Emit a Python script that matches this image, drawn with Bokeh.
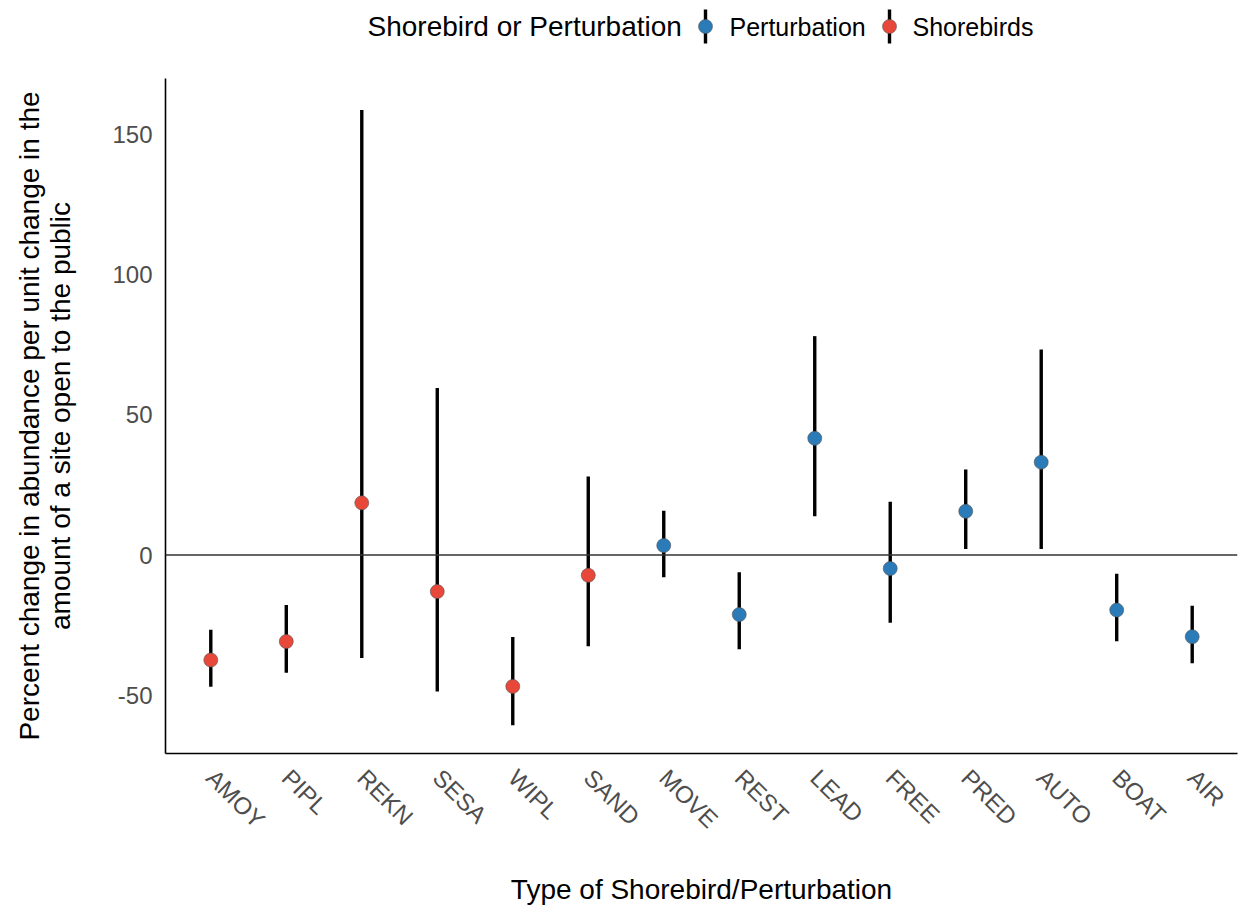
from bokeh.plotting import figure
from bokeh.models import ColumnDataSource, Range1d, FactorRange, Span, FixedTicker
from bokeh.layouts import column
from bokeh.core.properties import value
from bokeh.embed import file_html
from bokeh.resources import INLINE

# Effect of public access on shorebird abundance and perturbation types
codes = ["AMOY", "PIPL", "REKN", "SESA", "WIPL", "SAND", "MOVE",
         "REST", "LEAD", "FREE", "PRED", "AUTO", "BOAT", "AIR"]
groups = ["Shorebirds"] * 6 + ["Perturbation"] * 8
estimate = [-37.4, -30.8, 18.6, -13.0, -46.8, -7.2, 3.4,
            -21.2, 41.6, -4.8, 15.6, 33.1, -19.6, -29.1]
lower = [-46.9, -41.9, -36.7, -48.6, -60.6, -32.5, -7.9,
         -33.6, 13.8, -24.1, 2.2, 2.2, -30.7, -38.5]
upper = [-26.6, -17.8, 158.6, 59.5, -29.2, 28.0, 15.8,
         -6.1, 78.0, 19.0, 30.5, 73.2, -6.7, -18.1]
y_ticks = [-50, 0, 50, 100, 150]

legend_groups = ["Perturbation", "Shorebirds"]
group_colors = {"Perturbation": "#2B7BB9", "Shorebirds": "#E8483A"}

FONT = "Liberation Sans"
W = 1241
HEADER_H = 60
MAIN_H = 907 - HEADER_H
LEFT, RIGHT = 165, 4

src = ColumnDataSource(dict(
    code=codes, group=groups, est=estimate, lo=lower, hi=upper,
    color=[group_colors[g] for g in groups],
))

p = figure(
    width=W, height=MAIN_H,
    x_range=FactorRange(factors=codes, range_padding=0.1,
                        range_padding_units="absolute"),
    y_range=Range1d(-70.7, 169.8),
    output_backend="svg", toolbar_location=None,
    min_border_left=LEFT, min_border_right=RIGHT,
    min_border_top=18, min_border_bottom=154,
)
p.outline_line_color = None
p.background_fill_color = "white"
p.border_fill_color = "white"
p.xgrid.visible = False
p.ygrid.visible = False

# zero reference line
p.add_layout(Span(location=0, dimension="width",
                  line_color="#333333", line_width=1.6))

# interval bars and point estimates
p.segment(x0="code", y0="lo", x1="code", y1="hi", source=src,
          line_color="black", line_width=3.4)
p.scatter(x="code", y="est", source=src, size=14,
          fill_color="color", line_color="#555555", line_width=0.6)

# axes
for ax in (p.xaxis[0], p.yaxis[0]):
    ax.axis_line_color = "black"
    ax.axis_line_width = 1.6
    ax.major_tick_line_color = None
    ax.minor_tick_line_color = None
    ax.major_label_text_font = FONT
    ax.major_label_text_font_size = "24px"
    ax.major_label_text_color = "#4D4D4D"
    ax.axis_label_text_font = FONT
    ax.axis_label_text_font_size = "28px"
    ax.axis_label_text_font_style = "normal"
    ax.axis_label_text_color = "black"

p.yaxis.ticker = FixedTicker(ticks=y_ticks)
p.yaxis.major_label_overrides = {t: str(t) for t in y_ticks}
p.yaxis.major_label_standoff = 7
p.yaxis.axis_label = ("Percent change in abundance per unit change in the\n"
                      "amount of a site open to the public")
p.yaxis.axis_label_text_line_height = 1.0
p.yaxis.axis_label_standoff = 33

p.xaxis.major_label_orientation = -0.7853981633974483
p.xaxis.major_label_standoff = 14
p.xaxis.axis_label = "Type of Shorebird/Perturbation"
p.xaxis.axis_label_standoff = 28

# legend strip above the panel; its frame lines up with the panel's frame,
# so the x range is given in page pixels over that span
h = figure(
    width=W, height=HEADER_H,
    x_range=Range1d(LEFT, W - RIGHT), y_range=Range1d(0, HEADER_H),
    output_backend="svg", toolbar_location=None,
    min_border_left=LEFT, min_border_right=RIGHT,
    min_border_top=0, min_border_bottom=0,
)
h.axis.visible = False
h.grid.visible = False
h.outline_line_color = None
h.background_fill_color = "white"
h.border_fill_color = "white"

mid = HEADER_H - 26
h.text(x=[367], y=[mid], text=["Shorebird or Perturbation"],
       text_font=value(FONT), text_font_size="28px",
       text_align="left", text_baseline="middle", text_color="black")

key_x = [705, 889]
lab_x = [729, 912]
h.segment(x0=key_x, y0=[mid - 17] * 2, x1=key_x, y1=[mid + 17] * 2,
          line_color="black", line_width=3.4)
h.scatter(x=key_x, y=[mid] * 2, size=14,
          fill_color=[group_colors[g] for g in legend_groups],
          line_color="#555555", line_width=0.6)
h.text(x=lab_x, y=[mid] * 2, text=legend_groups,
       text_font=value(FONT), text_font_size="25px",
       text_align="left", text_baseline="middle", text_color="black")

layout = column(h, p, spacing=0)
open("out.html", "w").write(file_html(layout, INLINE))
